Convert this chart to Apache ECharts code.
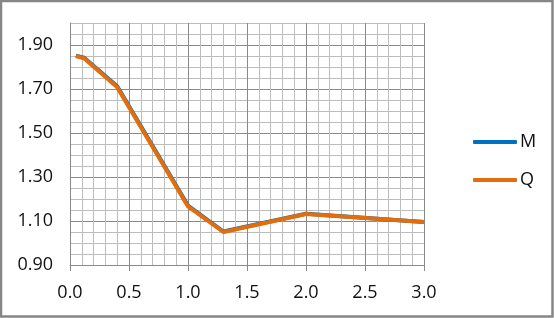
<!DOCTYPE html>
<html><head><meta charset="utf-8">
<script src="https://cdn.jsdelivr.net/npm/echarts@6/dist/echarts.min.js"></script>
<style>html,body{margin:0;padding:0;background:#fff}#c{width:554px;height:318px}</style>
</head><body><div id="c"></div>
<script>
const xValues = [0.05, 0.12, 0.4, 1.0, 1.3, 2.0, 3.0];
const mValues = [1.852, 1.842, 1.712, 1.170, 1.052, 1.133, 1.096];
const qValues = [1.850, 1.840, 1.708, 1.166, 1.050, 1.132, 1.095];
const seriesNames = ['M', 'Q'];

const FONT = 'Open Sans';
const chart = echarts.init(document.getElementById('c'), null, {renderer: 'canvas'});
const dark = '#8a8a8a', light = '#bdbdbd';
chart.setOption({
  animation: false,
  backgroundColor: '#fff',
  graphic: [{type: 'rect', shape: {x: 1, y: 1, width: 551.5, height: 315.5},
    style: {fill: 'none', stroke: '#868686', lineWidth: 2.5}, z: 100}],
  grid: {left: 70, right: 130, top: 23, bottom: 53},
  legend: {
    orient: 'vertical', left: 468, top: 128, itemWidth: 44, itemHeight: 4, itemGap: 20,
    icon: 'roundRect',
    textStyle: {fontFamily: FONT, fontSize: 18, color: '#111', padding: [0,0,0,-2]},
    data: seriesNames
  },
  xAxis: {
    type: 'value', min: 0, max: 3.0, interval: 0.5,
    axisLine: {show: true, lineStyle: {color: dark, width: 1}},
    axisTick: {show: true, length: 6, inside: false, lineStyle: {color: dark}},
    axisLabel: {fontFamily: FONT, fontSize: 18, color: '#111', margin: 19,
      formatter: v => v.toFixed(1)},
    splitLine: {show: true, lineStyle: {color: dark, width: 1}},
    minorTick: {show: false, splitNumber: 5},
    minorSplitLine: {show: true, lineStyle: {color: light, width: 1}}
  },
  yAxis: {
    type: 'value', min: 0.9, max: 2.0, interval: 0.05,
    axisLine: {show: true, lineStyle: {color: dark, width: 1}},
    axisTick: {show: false},
    axisLabel: {fontFamily: FONT, fontSize: 18, color: '#111', margin: 17,
      formatter: v => { const k = Math.round((v - 0.9) / 0.05); return (k % 4 === 0) ? v.toFixed(2) : ''; }},
    splitLine: {show: true, lineStyle: {color: [dark, light, light, light], width: 1}}
  },
  series: [
    {name: 'M', type: 'line', data: xValues.map((x, i) => [x, mValues[i]]), showSymbol: false,
      lineStyle: {color: '#0070c0', width: 4}, itemStyle: {color: '#0070c0'}},
    {name: 'Q', type: 'line', data: xValues.map((x, i) => [x, qValues[i]]), showSymbol: false,
      lineStyle: {color: '#e46c0a', width: 4}, itemStyle: {color: '#e46c0a'}}
  ]
});
</script></body></html>
